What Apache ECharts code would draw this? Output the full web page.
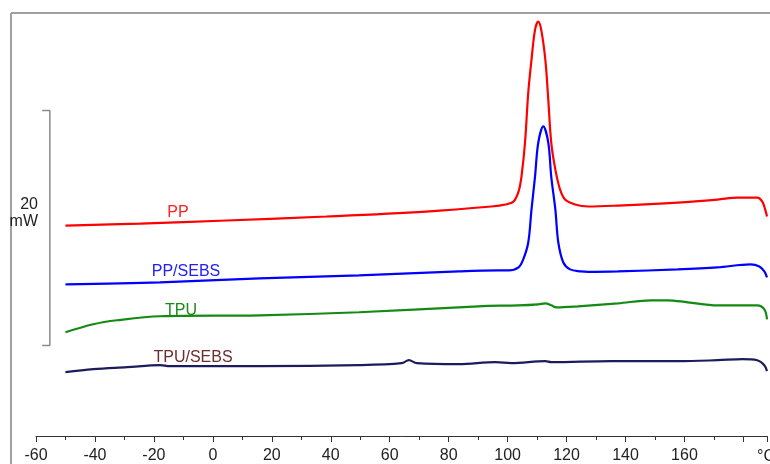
<!DOCTYPE html>
<html>
<head>
<meta charset="utf-8">
<script src="https://cdn.jsdelivr.net/npm/echarts@6/dist/echarts.min.js"></script>
<style>
    html, body { margin: 0; padding: 0; background: #fff; }
    #dsc { width: 770px; height: 464px; }
</style>
</head>
<body>
<div id="dsc"></div>
<script>
// temperatures (°C) and heat flow (mW, offset curves)
var ppT = [-50, -24.7, 4.7, 38.5, 72.2, 94.5, 99.3, 102.0, 103.7, 104.7, 105.9, 107.0, 108.1, 109.3, 110.4,
    111.4, 112.8, 113.8, 114.8, 116.2, 117.8, 119.5, 122.9, 127.3, 137.4, 157.7, 171.2, 178.0, 184.7, 186.4, 187.4, 188];
var ppV = [17.91, 18.08, 18.34, 18.68, 19.10, 19.53, 19.70, 19.95, 20.80, 22.08, 24.96, 29.21, 32.01, 34.56, 35.26,
    34.56, 32.01, 28.61, 24.96, 22.67, 20.97, 20.12, 19.70, 19.53, 19.61, 19.87, 20.12, 20.29, 20.29, 19.95, 19.27, 18.68];

var ppSebsT = [-50, -17.9, 15.8, 49.6, 83.4, 96.9, 100.3, 103.7, 105.3, 107.0, 108.1, 109.3, 110.4, 112.1,
    113.8, 114.8, 116.2, 117.2, 118.9, 121.2, 124.9, 127.3, 137.4, 157.7, 171.2, 182.4, 185.4, 187.1, 188];
var ppSebsV = [12.91, 13.08, 13.41, 13.67, 14.01, 14.09, 14.09, 14.35, 15.03, 16.47, 19.27, 22.08, 24.96, 26.35,
    24.96, 22.08, 19.27, 16.47, 14.77, 14.18, 14.01, 13.97, 14.01, 14.18, 14.35, 14.60, 14.43, 14.01, 13.50];

var tpuT = [-50, -40.6, -32.5, -17.9, 15.8, 49.6, 90.1, 103.7, 110.4, 112.8, 114.8, 116.5, 123.9, 137.4,
    148.6, 154.3, 161.1, 171.2, 184.7, 187.1, 188];
var tpuV = [8.83, 9.51, 9.85, 10.19, 10.27, 10.53, 11.04, 11.12, 11.21, 11.29, 11.12, 10.95, 11.04, 11.29,
    11.55, 11.55, 11.38, 11.12, 11.12, 10.78, 9.93];

var tpuSebsT = [-50, -40.6, -29.1, -17.9, -14.6, 15.8, 49.6, 64.1, 66.5, 69.2, 83.4, 95.9, 101.3, 112.8,
    114.8, 135.1, 157.7, 171.2, 179.7, 184.7, 187.1, 188];
var tpuSebsV = [5.43, 5.69, 5.86, 6.03, 5.94, 5.94, 6.03, 6.20, 6.45, 6.20, 6.11, 6.28, 6.20, 6.37,
    6.28, 6.37, 6.37, 6.45, 6.54, 6.45, 6.03, 5.52];

// 20 mW scale bar
var scaleBarT = [-57.9, -55.3, -55.3, -57.9];
var scaleBarV = [27.7, 27.7, 7.7, 7.7];

var xTicks = [-60, -40, -20, 0, 20, 40, 60, 80, 100, 120, 140, 160, 180];

function zip(xs, ys) {
    var out = [];
    for (var i = 0; i < xs.length; i++) {
        out.push([xs[i], ys[i]]);
    }
    return out;
}

var font = '"Liberation Sans", Arial, sans-serif';

function curve(name, xs, ys, color) {
    return {
        name: name,
        type: 'line',
        data: zip(xs, ys),
        smooth: 0.35,
        symbol: 'none',
        silent: true,
        lineStyle: { color: color, width: 2.2 }
    };
}

function note(text, x, y, color) {
    return {
        type: 'text', x: x, y: y, silent: true,
        style: { text: text, fill: color, font: '16px ' + font, textAlign: 'center', textVerticalAlign: 'middle' }
    };
}

var myChart = echarts.init(document.getElementById('dsc'));

var option = {
    animation: false,
    backgroundColor: '#fff',
    grid: { left: 36, right: 0, top: 13, bottom: 27 },
    xAxis: {
        type: 'value',
        min: -60,
        max: 188,
        interval: 20,
        splitLine: { show: false },
        axisLine: { lineStyle: { color: '#333', width: 1 } },
        axisTick: { length: 6, lineStyle: { color: '#333' } },
        minorTick: { show: true, splitNumber: 2, length: 4, lineStyle: { color: '#333' } },
        axisLabel: {
            margin: 12,
            fontSize: 16,
            fontFamily: font,
            color: '#222',
            formatter: function (v) {
                return xTicks.indexOf(v) >= 0 && v !== 180 ? String(v) : '';
            }
        }
    },
    yAxis: {
        type: 'value',
        min: 0,
        max: 36,
        show: false
    },
    series: [
        curve('PP', ppT, ppV, '#ff0000'),
        curve('PP/SEBS', ppSebsT, ppSebsV, '#0000ff'),
        curve('TPU', tpuT, tpuV, '#138a13'),
        curve('TPU/SEBS', tpuSebsT, tpuSebsV, '#1c1c5c'),
        {
            type: 'line',
            data: zip(scaleBarT, scaleBarV),
            symbol: 'none',
            silent: true,
            lineStyle: { color: '#8a8a8a', width: 1.5 }
        }
    ],
    graphic: [
        // plot frame (top and left edges)
        { type: 'line', silent: true, shape: { x1: 11, y1: 13, x2: 770, y2: 13 }, style: { stroke: '#a0a0a0', lineWidth: 2 } },
        { type: 'line', silent: true, shape: { x1: 11, y1: 13, x2: 11, y2: 464 }, style: { stroke: '#a0a0a0', lineWidth: 2 } },
        { type: 'text', x: 38, y: 197, silent: true,
          style: { text: '20', fill: '#222', font: '16px ' + font, textAlign: 'right', textVerticalAlign: 'top' } },
        { type: 'text', x: 38, y: 214, silent: true,
          style: { text: 'mW', fill: '#222', font: '16px ' + font, textAlign: 'right', textVerticalAlign: 'top' } },
        { type: 'text', x: 757, y: 449, silent: true,
          style: { text: '°C', fill: '#222', font: '16px ' + font, textVerticalAlign: 'top' } },
        note('PP', 178, 213, '#ff2020'),
        note('PP/SEBS', 186, 272, '#2020ff'),
        note('TPU', 181, 311, '#1a8a1a'),
        note('TPU/SEBS', 193, 358, '#6e2c2c')
    ]
};

myChart.setOption(option);
</script>
</body>
</html>
